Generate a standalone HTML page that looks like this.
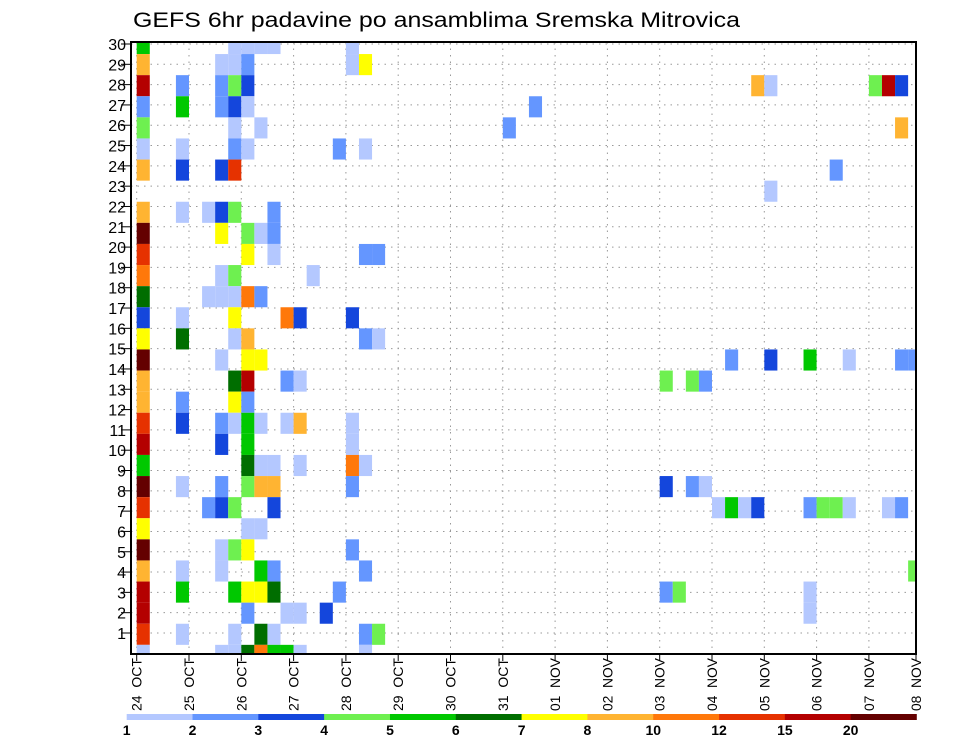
<!DOCTYPE html>
<html><head><meta charset="utf-8">
<style>
html,body{margin:0;padding:0;background:#fff;}
svg{display:block;font-family:"Liberation Sans",sans-serif;}
</style></head>
<body>
<svg id="chart" width="960" height="742" viewBox="0 0 960 742" xmlns="http://www.w3.org/2000/svg">
  <rect x="0" y="0" width="960" height="742" fill="#fff"/>
  <text x="133" y="27" font-size="21" textLength="607" lengthAdjust="spacingAndGlyphs" fill="#000">GEFS 6hr padavine po ansamblima Sremska Mitrovica</text>
  <defs><clipPath id="plotclip"><rect x="131" y="42" width="785" height="612"/></clipPath></defs>
  <g id="grid"></g>
  <g id="cells" clip-path="url(#plotclip)"></g>
  <g id="yaxis"></g>
  <g id="xaxis"></g>
  <rect x="131" y="42" width="785" height="612" fill="none" stroke="#000" stroke-width="2"/>
  <g id="colorbar"></g>
</svg>
<script>
// ---- data ----
const dayLabels = ["24 OCT","25 OCT","26 OCT","27 OCT","28 OCT","29 OCT","30 OCT","31 OCT","01 NOV","02 NOV","03 NOV","04 NOV","05 NOV","06 NOV","07 NOV","08 NOV"];
const memberLabels = [1,2,3,4,5,6,7,8,9,10,11,12,13,14,15,16,17,18,19,20,21,22,23,24,25,26,27,28,29,30];
const levelLabels = ["1","2","3","4","5","6","7","8","10","12","15","20"];
const levelCodes = "abcdefghijkl";
const levelColors = ["#b4c8ff","#6496ff","#1446dc","#6ef050","#00c800","#006e00","#ffff00","#ffb432","#ff780a","#e63200","#b40000","#640000"];
// one string per ensemble row (top to bottom): "col+levelcode" entries
const rowCells = [
 "0e 7a 8a 9a 10a 16a",
 "0h 6a 7a 8b 16a 17g",
 "0k 3b 6b 7d 8c 47h 48a 56d 57k 58c",
 "0b 3e 6b 7c 8a 30b",
 "0d 7a 9a 28b 58h",
 "0a 3a 7b 8a 15b 17a",
 "0h 3c 6c 7j 53b",
 "48a",
 "0h 3a 5a 6c 7d 10b",
 "0l 6g 8d 9a 10b",
 "0j 8g 10a 17b 18b",
 "0i 6a 7d 13a",
 "0f 5a 6a 7a 8i 9b",
 "0c 3a 7g 11i 12c 16c",
 "0g 3f 7a 8h 17b 18a",
 "0l 6a 8g 9g 45b 48c 51e 54a 58b 59b",
 "0h 7f 8k 11b 12a 40d 42d 43b",
 "0h 3b 7g 8b",
 "0j 3c 6b 7a 8e 9a 11a 12h 16a",
 "0k 6c 8e 16a",
 "0e 8f 9a 10a 12a 16i 17a",
 "0l 3a 6b 8d 9h 10h 16b 40c 42b 43a",
 "0j 5b 6c 7d 10c 44a 45e 46a 47c 51b 52d 53d 54a 57a 58b",
 "0g 8a 9a",
 "0l 6a 7d 8g 16b",
 "0h 3a 6a 9e 10b 17b 59d",
 "0k 3e 7e 8g 9g 10f 15b 40b 41d 51a",
 "0k 8b 11a 12a 14c 51a",
 "0j 3a 7a 9f 10a 17b 18d",
 "0a 6a 7a 8f 9i 10e 11e 12a 17a"
];
// ---- scales ----
const NS="http://www.w3.org/2000/svg";
const X0=136.7, DAY=52.3, STEP=DAY/4, RIGHT=916;
const ROW_TOP0=32.95, ROW_H=21.1;
function xStep(i){return X0+STEP*i;}
function xDay(k){return Math.min(X0+DAY*k, RIGHT);}
function yRow(j){return ROW_TOP0+ROW_H*j;}
function yLabel(m){return 44+(30-m)*20.31;}
function mk(tag,attrs,parent){const e=document.createElementNS(NS,tag);for(const k in attrs)e.setAttribute(k,attrs[k]);parent.appendChild(e);return e;}
const gGrid=document.getElementById('grid'),gCells=document.getElementById('cells'),gY=document.getElementById('yaxis'),gX=document.getElementById('xaxis'),gCB=document.getElementById('colorbar');
// grid
memberLabels.forEach(m=>{
  const l=mk('line',{x1:131,x2:916,y1:yLabel(m),y2:yLabel(m),stroke:'#999','stroke-width':1,'stroke-dasharray':'1.5 5'},gGrid);
  
  
});
dayLabels.forEach((d,k)=>{
  const l=mk('line',{x1:xDay(k),x2:xDay(k),y1:42,y2:654,stroke:'#999','stroke-width':1,'stroke-dasharray':'1.5 5'},gGrid);
  
  
});
// cells
rowCells.forEach((s,j)=>{
  s.split(' ').filter(Boolean).forEach(tok=>{
    const col=parseInt(tok,10), code=tok.slice(-1), lv=levelCodes.indexOf(code);
    const r=mk('rect',{x:xStep(col),y:yRow(j),width:STEP,height:ROW_H,fill:levelColors[lv]},gCells);
    
    
  });
});
// y axis
memberLabels.forEach(m=>{
  const t=mk('line',{x1:121,x2:131,y1:yLabel(m),y2:yLabel(m),stroke:'#000','stroke-width':1},gY);
  
  
  const tx=mk('text',{x:126,y:yLabel(m)+6,'font-size':16,'text-anchor':'end',fill:'#000'},gY);
  tx.textContent=String(m);
  
  
});
// x axis
dayLabels.forEach((d,k)=>{
  const x=xDay(k);
  const t=mk('line',{x1:x,x2:x,y1:654,y2:661,stroke:'#000','stroke-width':1},gX);
  
  
  const parts=d.split(' ');
  const tx=mk('text',{x:0,y:0,'font-size':14,fill:'#000',transform:'translate('+(x+5)+',711) rotate(-90)'},gX);
  tx.textContent=parts[0]+'\u00a0\u00a0'+parts[1];
  tx.setAttribute('textLength','53');
  tx.setAttribute('lengthAdjust','spacingAndGlyphs');
  
  
});
// colorbar
const CB0=126.7, CBW=(916.5-126.7)/levelColors.length;
levelColors.forEach((c,i)=>{
  const r=mk('rect',{x:CB0+CBW*i,y:714,width:CBW+0.3,height:6,fill:c},gCB);
  
  
});
levelLabels.forEach((l,i)=>{
  const t=mk('text',{x:CB0+CBW*i,y:735,'font-size':14,'font-weight':'bold','text-anchor':'middle',fill:'#000'},gCB);
  t.textContent=l;
  
  
});
</script>
</body></html>
